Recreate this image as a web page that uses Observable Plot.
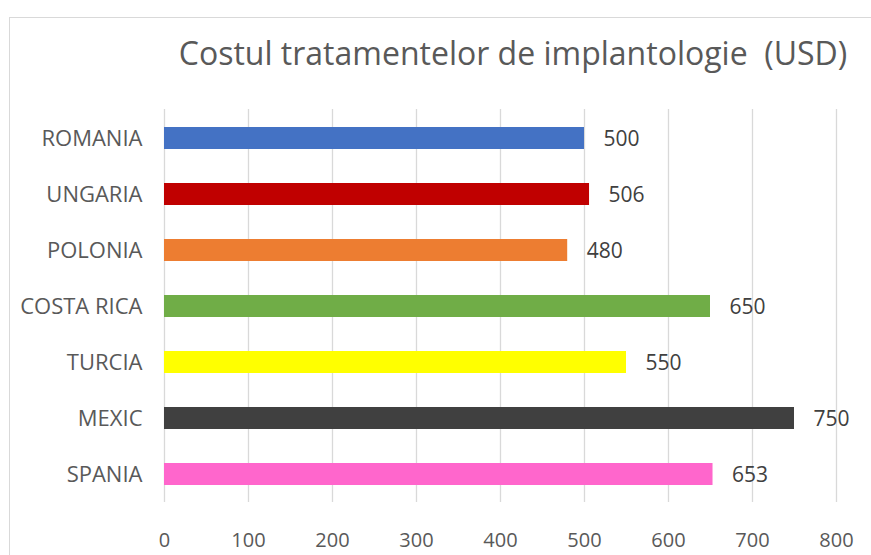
<!DOCTYPE html>
<html>
<head>
<meta charset="utf-8">
<script src="https://cdn.jsdelivr.net/npm/d3@7"></script>
<script src="https://cdn.jsdelivr.net/npm/@observablehq/plot@0.6"></script>
<style>
  html, body { margin: 0; padding: 0; background: #fff; }
  #wrap { position: relative; width: 871px; height: 555px; overflow: hidden; font-family: "Open Sans", sans-serif; }
  #frame { position: absolute; left: 9px; top: 17px; width: 870px; height: 560px; border: 1px solid #d9d9d9; box-sizing: border-box; }
  #title { position: absolute; left: 513px; top: 37px; transform: translateX(-50%); font-size: 32px; line-height: 32px; color: #595959; white-space: pre; }
  #chart { position: absolute; left: 0; top: 0; }
</style>
</head>
<body>
<div id="wrap">
  <div id="frame"></div>
  <div id="chart"></div>
  <div id="title">Costul tratamentelor de implantologie  (USD)</div>
</div>
<script>
const categories = ["ROMANIA", "UNGARIA", "POLONIA", "COSTA RICA", "TURCIA", "MEXIC", "SPANIA"];
const values = [500, 506, 480, 650, 550, 750, 653];
const colors = ["#4472C4", "#C00000", "#ED7D31", "#70AD47", "#FFFF00", "#404040", "#FF66CC"];
const xTicks = [0, 100, 200, 300, 400, 500, 600, 700, 800];

const data = categories.map((c, i) => ({country: c, value: values[i]}));

const chart = Plot.plot({
  width: 871,
  height: 555,
  marginLeft: 164,
  marginRight: 35,
  marginTop: 109,
  marginBottom: 53,
  style: {fontFamily: "'Open Sans', sans-serif", background: "transparent"},
  x: {domain: [0, 800], ticks: xTicks, label: null},
  y: {domain: categories, paddingInner: 0.61, paddingOuter: 0.305, label: null},
  color: {domain: categories, range: colors},
  marks: [
    Plot.ruleX(xTicks, {stroke: "#d9d9d9", strokeWidth: 1.3}),
    Plot.barX(data, {y: "country", x: "value", fill: "country"}),
    Plot.text(data, {y: "country", x: "value", text: d => String(d.value), dx: 19, dy: 1, textAnchor: "start", fill: "#404040", fontSize: 21}),
    Plot.axisX({ticks: xTicks, tickSize: 0, tickPadding: 30, fontSize: 20, color: "#595959", label: null, tickFormat: d => String(d)}),
    Plot.axisY({tickSize: 0, tickPadding: 22, fontSize: 22, color: "#595959", label: null})
  ]
});
document.getElementById("chart").appendChild(chart);
</script>
</body>
</html>
